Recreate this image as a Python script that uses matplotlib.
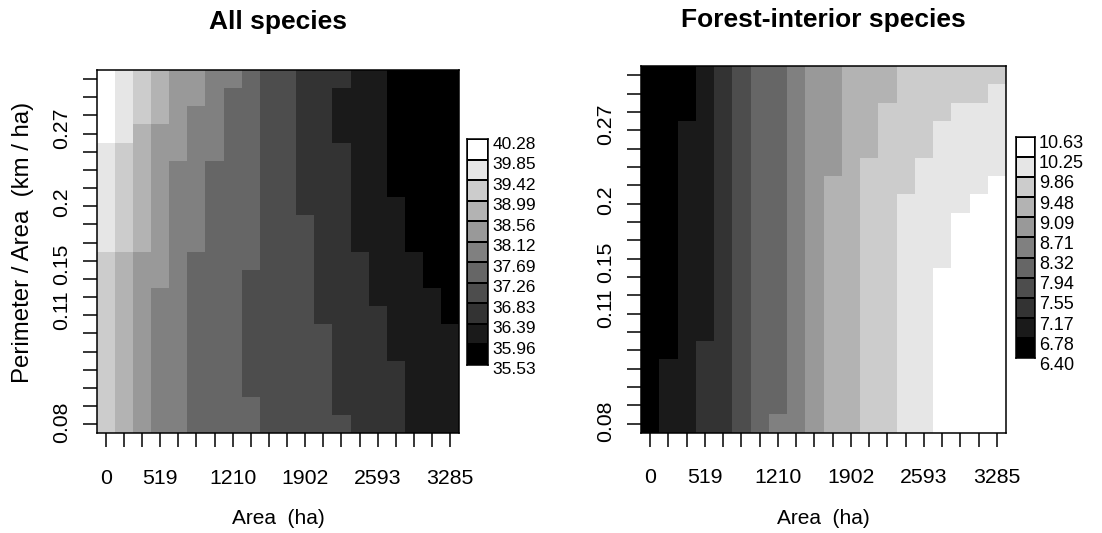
import numpy as np
import matplotlib
matplotlib.use("Agg")
import matplotlib.pyplot as plt
from matplotlib.colors import ListedColormap, BoundaryNorm
from matplotlib.transforms import blended_transform_factory, offset_copy

plt.rcParams["font.family"] = ["Liberation Sans", "DejaVu Sans"]

# ---- data -------------------------------------------------------------
area_labels = ["0", "519", "1210", "1902", "2593", "3285"]
area_label_cells = [0, 3, 7, 11, 15, 19]
pa_labels = ["0.08", "0.11", "0.15", "0.2", "0.27"]
pa_label_cells = [0.1, 6.3, 8.8, 12.2, 16.3]

all_breaks = [35.53, 35.96, 36.39, 36.83, 37.26, 37.69,
              38.12, 38.56, 38.99, 39.42, 39.85, 40.28]
fi_breaks = [6.40, 6.78, 7.17, 7.55, 7.94, 8.32,
             8.71, 9.09, 9.48, 9.86, 10.25, 10.63]

# predicted richness class of each cell (0 = lowest class of the legend);
# rows run from the largest perimeter/area (top) down to the smallest
all_class = [
    [10, 9, 8, 7, 6, 6, 5, 5, 4, 3, 3, 2, 2, 2, 1, 1, 0, 0, 0, 0],
    [10, 9, 8, 7, 6, 6, 5, 4, 4, 3, 3, 2, 2, 1, 1, 1, 0, 0, 0, 0],
    [10, 9, 8, 7, 6, 5, 5, 4, 4, 3, 3, 2, 2, 1, 1, 1, 0, 0, 0, 0],
    [10, 9, 7, 6, 6, 5, 5, 4, 4, 3, 3, 2, 2, 1, 1, 1, 0, 0, 0, 0],
    [9, 8, 7, 6, 6, 5, 5, 4, 4, 3, 3, 2, 2, 2, 1, 1, 0, 0, 0, 0],
    [9, 8, 7, 6, 5, 5, 4, 4, 4, 3, 3, 2, 2, 2, 1, 1, 0, 0, 0, 0],
    [9, 8, 7, 6, 5, 5, 4, 4, 4, 3, 3, 2, 2, 2, 1, 1, 0, 0, 0, 0],
    [9, 8, 7, 6, 5, 5, 4, 4, 4, 3, 3, 2, 2, 2, 1, 1, 1, 0, 0, 0],
    [9, 8, 7, 6, 5, 5, 4, 4, 4, 3, 3, 3, 2, 2, 1, 1, 1, 0, 0, 0],
    [9, 8, 7, 6, 5, 5, 4, 4, 4, 3, 3, 3, 2, 2, 1, 1, 1, 0, 0, 0],
    [8, 7, 6, 6, 5, 4, 4, 4, 4, 3, 3, 3, 2, 2, 2, 1, 1, 1, 0, 0],
    [8, 7, 6, 6, 5, 4, 4, 4, 3, 3, 3, 3, 2, 2, 2, 1, 1, 1, 0, 0],
    [8, 7, 6, 5, 5, 4, 4, 4, 3, 3, 3, 3, 2, 2, 2, 1, 1, 1, 1, 0],
    [8, 7, 6, 5, 5, 4, 4, 4, 3, 3, 3, 3, 2, 2, 2, 2, 1, 1, 1, 0],
    [8, 7, 6, 5, 5, 4, 4, 4, 3, 3, 3, 3, 3, 2, 2, 2, 1, 1, 1, 1],
    [8, 7, 6, 5, 5, 4, 4, 4, 3, 3, 3, 3, 3, 2, 2, 2, 1, 1, 1, 1],
    [8, 7, 6, 5, 5, 4, 4, 4, 3, 3, 3, 3, 3, 2, 2, 2, 2, 1, 1, 1],
    [8, 7, 6, 5, 5, 4, 4, 4, 3, 3, 3, 3, 3, 2, 2, 2, 2, 1, 1, 1],
    [8, 7, 6, 5, 5, 4, 4, 4, 4, 3, 3, 3, 3, 2, 2, 2, 2, 1, 1, 1],
    [8, 7, 6, 5, 5, 4, 4, 4, 4, 3, 3, 3, 3, 3, 2, 2, 2, 1, 1, 1],
]

fi_class = [
    [0, 0, 0, 1, 2, 3, 4, 4, 5, 6, 6, 7, 7, 7, 8, 8, 8, 8, 8, 8],
    [0, 0, 0, 1, 2, 3, 4, 4, 5, 6, 6, 7, 7, 7, 8, 8, 8, 8, 8, 9],
    [0, 0, 0, 1, 2, 3, 4, 4, 5, 6, 6, 7, 7, 8, 8, 8, 8, 9, 9, 9],
    [0, 0, 1, 1, 2, 3, 4, 4, 5, 6, 6, 7, 7, 8, 8, 8, 9, 9, 9, 9],
    [0, 0, 1, 1, 2, 3, 4, 4, 5, 6, 6, 7, 7, 8, 8, 8, 9, 9, 9, 9],
    [0, 0, 1, 1, 2, 3, 4, 4, 5, 6, 6, 7, 8, 8, 8, 9, 9, 9, 9, 9],
    [0, 0, 1, 1, 2, 3, 4, 4, 5, 6, 7, 7, 8, 8, 8, 9, 9, 9, 9, 10],
    [0, 0, 1, 1, 2, 3, 4, 4, 5, 6, 7, 7, 8, 8, 9, 9, 9, 9, 10, 10],
    [0, 0, 1, 1, 2, 3, 4, 4, 5, 6, 7, 7, 8, 8, 9, 9, 9, 10, 10, 10],
    [0, 0, 1, 1, 2, 3, 4, 4, 5, 6, 7, 7, 8, 8, 9, 9, 9, 10, 10, 10],
    [0, 0, 1, 1, 2, 3, 4, 4, 5, 6, 7, 7, 8, 8, 9, 9, 9, 10, 10, 10],
    [0, 0, 1, 1, 2, 3, 4, 4, 5, 6, 7, 7, 8, 8, 9, 9, 10, 10, 10, 10],
    [0, 0, 1, 1, 2, 3, 4, 4, 5, 6, 7, 7, 8, 8, 9, 9, 10, 10, 10, 10],
    [0, 0, 1, 1, 2, 3, 4, 4, 5, 6, 7, 7, 8, 8, 9, 9, 10, 10, 10, 10],
    [0, 0, 1, 1, 2, 3, 4, 4, 5, 6, 7, 7, 8, 8, 9, 9, 10, 10, 10, 10],
    [0, 0, 1, 2, 2, 3, 4, 4, 5, 6, 7, 7, 8, 8, 9, 9, 10, 10, 10, 10],
    [0, 1, 1, 2, 2, 3, 4, 4, 5, 6, 7, 7, 8, 8, 9, 9, 10, 10, 10, 10],
    [0, 1, 1, 2, 2, 3, 4, 4, 5, 6, 7, 7, 8, 8, 9, 9, 10, 10, 10, 10],
    [0, 1, 1, 2, 2, 3, 4, 4, 5, 6, 7, 7, 8, 8, 9, 9, 10, 10, 10, 10],
    [0, 1, 1, 2, 2, 3, 4, 5, 5, 6, 7, 7, 8, 8, 9, 9, 10, 10, 10, 10],
]

titles = ["All species", "Forest-interior species"]

# ---- styling ----------------------------------------------------------
W, H = 1102, 533
grays = ListedColormap([str(v) for v in np.linspace(0, 1, 11)])


def box(x0, y0, x1, y1):
    """pixel box (top-left origin) -> figure fraction rect"""
    return [x0 / W, 1 - y1 / H, (x1 - x0) / W, (y1 - y0) / H]


fig = plt.figure(figsize=(W / 100, H / 100), dpi=100)

panels = [
    dict(cls=all_class, breaks=all_breaks,
         ax=box(96.7, 70, 459.3, 433.3), cb=box(467.3, 139.3, 488.3, 365),
         cb_fs=12.5, cb_dy=-5, title_y=21.5, ylab=True),
    dict(cls=fi_class, breaks=fi_breaks,
         ax=box(641, 66, 1006, 432.7), cb=box(1016, 136.7, 1035, 358.3),
         cb_fs=13, cb_dy=-7, title_y=19.5, ylab=False),
]

for title, p in zip(titles, panels):
    breaks = np.array(p["breaks"])
    mids = (breaks[:-1] + breaks[1:]) / 2
    z = mids[np.flipud(np.array(p["cls"]))]
    norm = BoundaryNorm(breaks, grays.N)

    ax = fig.add_axes(p["ax"])
    nrow, ncol = z.shape
    ax.pcolormesh(np.arange(ncol + 1) - 0.5, np.arange(nrow + 1) - 0.5, z,
                  cmap=grays, norm=norm, shading="flat")
    ax.set_xlim(-0.5, ncol - 0.5)
    ax.set_ylim(-0.5, nrow - 0.5)
    for s in ax.spines.values():
        s.set_linewidth(1.1)
        s.set_color("black")

    ax.set_xticks(np.arange(ncol))
    ax.set_yticks(np.arange(nrow))
    ax.set_xticklabels([])
    ax.set_yticklabels([])
    ax.tick_params(direction="out", length=10, width=1.1, color="black")

    bx = blended_transform_factory(ax.transData, ax.transAxes)
    by = blended_transform_factory(ax.transAxes, ax.transData)
    ax_h_px = p["ax"][3] * H
    ax_w_px = p["ax"][2] * W
    for pos, lab in zip(area_label_cells, area_labels):
        ax.text(pos, -44.8 / ax_h_px, lab, transform=bx, ha="center",
                va="center", fontsize=15.3)
    for pos, lab in zip(pa_label_cells, pa_labels):
        ax.text(-35 / ax_w_px, pos, lab, transform=by, ha="center",
                va="center", rotation=90, fontsize=15.3)

    cx = p["ax"][0] + p["ax"][2] / 2
    fig.text(cx, 1 - 518 / H, "Area  (ha)", ha="center", va="center",
             fontsize=15)
    fig.text(cx, 1 - p["title_y"] / H, title, ha="center", va="center",
             fontsize=19, fontweight="bold")
    if p["ylab"]:
        fig.text(23 / W, 1 - 242 / H, "Perimeter / Area  (km / ha)",
                 ha="center", va="center", rotation=90, fontsize=17.3)

    # legend strip
    cax = fig.add_axes(p["cb"])
    nlev = len(mids)
    cax.pcolormesh([0, 1], np.arange(nlev + 1), mids[:, None], cmap=grays,
                   norm=norm, edgecolors="black", linewidth=1.1)
    cax.set_xlim(0, 1)
    cax.set_ylim(0, nlev)
    cax.set_xticks([])
    cax.set_yticks([])
    for s in cax.spines.values():
        s.set_linewidth(1.1)
    tr = offset_copy(blended_transform_factory(cax.transAxes, cax.transData),
                     fig=fig, x=4, y=p["cb_dy"], units="dots")
    for i, b in enumerate(breaks):
        cax.text(1, i, f"{b:.2f}", transform=tr, ha="left", va="center",
                 fontsize=p["cb_fs"])

fig.savefig("out.png", dpi=100)
